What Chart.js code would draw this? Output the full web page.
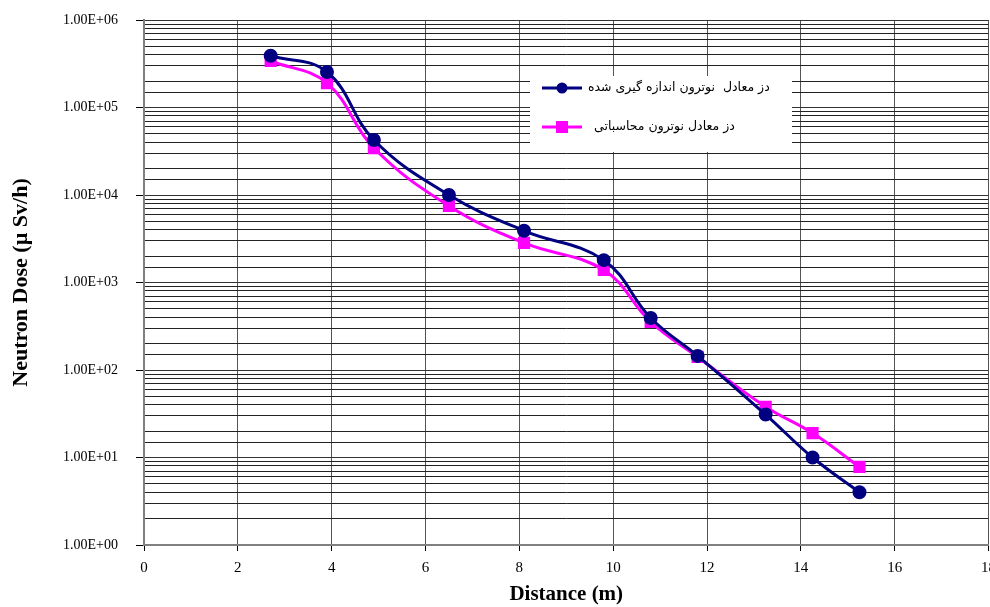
<!DOCTYPE html>
<html>
<head>
<meta charset="utf-8">
<script src="https://cdn.jsdelivr.net/npm/chart.js@4"></script>
<style>
  html, body { margin: 0; padding: 0; background: #fff; overflow: hidden; }
  #wrap { width: 990px; height: 607px; overflow: hidden; }
</style>
</head>
<body>
<div id="wrap"><canvas id="dose-chart" width="1004" height="607"></canvas></div>
<script>
// distances (m)
const distances = [2.7, 3.9, 4.9, 6.5, 8.1, 9.8, 10.8, 11.8, 13.25, 14.25, 15.25];
// measured neutron equivalent dose (µSv/h)
const measuredDose = [390000, 255000, 42500, 10000, 3900, 1800, 393, 145, 31, 10, 4];
// calculated neutron equivalent dose (µSv/h)
const calculatedDose = [340000, 190000, 34400, 7500, 2830, 1390, 354, 141, 38, 19, 7.8];

const measuredLabel = 'دز معادل  نوترون اندازه گیری شده';
const calculatedLabel = 'دز معادل نوترون محاسباتی';

function toPoints(ys) {
  return distances.map((x, i) => ({ x: x, y: ys[i] }));
}

function isDecade(v) {
  const l = Math.log10(v);
  return Math.abs(l - Math.round(l)) < 1e-9;
}

// legend box drawn over the plot, like the original
const boxLegend = {
  id: 'boxLegend',
  afterDraw(chart) {
    const ctx = chart.ctx;
    ctx.save();
    ctx.fillStyle = '#ffffff';
    ctx.fillRect(530, 76, 262, 76);

    const rows = [
      { y: 88, color: '#000080', style: 'circle', text: measuredLabel, tx: 588 },
      { y: 127, color: '#ff00ff', style: 'rect', text: calculatedLabel, tx: 594 }
    ];
    rows.forEach(r => {
      ctx.strokeStyle = r.color;
      ctx.lineWidth = 3;
      ctx.beginPath();
      ctx.moveTo(542, r.y);
      ctx.lineTo(582, r.y);
      ctx.stroke();
      ctx.fillStyle = r.color;
      if (r.style === 'circle') {
        ctx.beginPath();
        ctx.arc(562, r.y, 5.5, 0, Math.PI * 2);
        ctx.fill();
      } else {
        ctx.fillRect(556, r.y - 6, 12, 12);
      }
      ctx.fillStyle = '#000';
      ctx.font = '12.5px "DejaVu Sans"';
      ctx.textBaseline = 'middle';
      ctx.direction = 'rtl';
      ctx.textAlign = 'left';
      ctx.fillText(r.text, r.tx, r.y);
    });
    ctx.restore();
  }
};

const ctx = document.getElementById('dose-chart').getContext('2d');

new Chart(ctx, {
  type: 'line',
  data: {
    datasets: [{
      label: measuredLabel,
      data: toPoints(measuredDose),
      borderColor: '#000080',
      backgroundColor: '#000080',
      borderWidth: 3,
      pointStyle: 'circle',
      pointRadius: 5.5,
      tension: 0.4
    }, {
      label: calculatedLabel,
      data: toPoints(calculatedDose),
      borderColor: '#ff00ff',
      backgroundColor: '#ff00ff',
      borderWidth: 3,
      pointStyle: 'rect',
      pointRadius: 6.5,
      tension: 0.4
    }]
  },
  options: {
    responsive: false,
    animation: false,
    layout: { padding: { top: 20, right: 2, left: 0, bottom: 0 } },
    plugins: {
      legend: { display: false },
      tooltip: { enabled: false }
    },
    scales: {
      x: {
        type: 'linear',
        min: 0,
        max: 18,
        ticks: {
          stepSize: 2,
          padding: 8,
          color: '#000',
          font: { family: '"Liberation Serif"', size: 15 }
        },
        grid: {
          color: '#555',
          lineWidth: 1,
          tickLength: 6,
          tickColor: '#000'
        },
        border: { color: '#808080', width: 2 },
        title: {
          display: true,
          text: 'Distance (m)',
          color: '#000',
          padding: { top: 4, bottom: 0 },
          font: { family: '"Liberation Serif"', size: 21, weight: 'bold' }
        },
        afterFit(scale) {
          scale.height = 62;
        }
      },
      y: {
        type: 'logarithmic',
        min: 1,
        max: 1000000,
        ticks: {
          autoSkip: false,
          padding: 18,
          color: '#000',
          font: { family: '"Liberation Serif"', size: 14 },
          callback: v => isDecade(v) ? Number(v).toExponential(2).toUpperCase().replace(/E\+(\d)$/, 'E+0$1') : ''
        },
        grid: {
          color: c => (c.tick && isDecade(c.tick.value)) ? '#333' : '#222',
          lineWidth: 1,
          tickLength: 8,
          tickColor: c => (c.tick && isDecade(c.tick.value)) ? '#000' : 'rgba(0,0,0,0)'
        },
        border: { color: '#808080', width: 2 },
        title: {
          display: true,
          text: 'Neutron Dose (µ Sv/h)',
          color: '#000',
          padding: { top: 8, bottom: 2 },
          font: { family: '"Liberation Serif"', size: 22, weight: 'bold' }
        },
        afterFit(scale) {
          scale.width = 144;
          scale.paddingTop = 0;
          scale.paddingBottom = 0;
        }
      }
    }
  },
  plugins: [boxLegend]
});
</script>
</body>
</html>
